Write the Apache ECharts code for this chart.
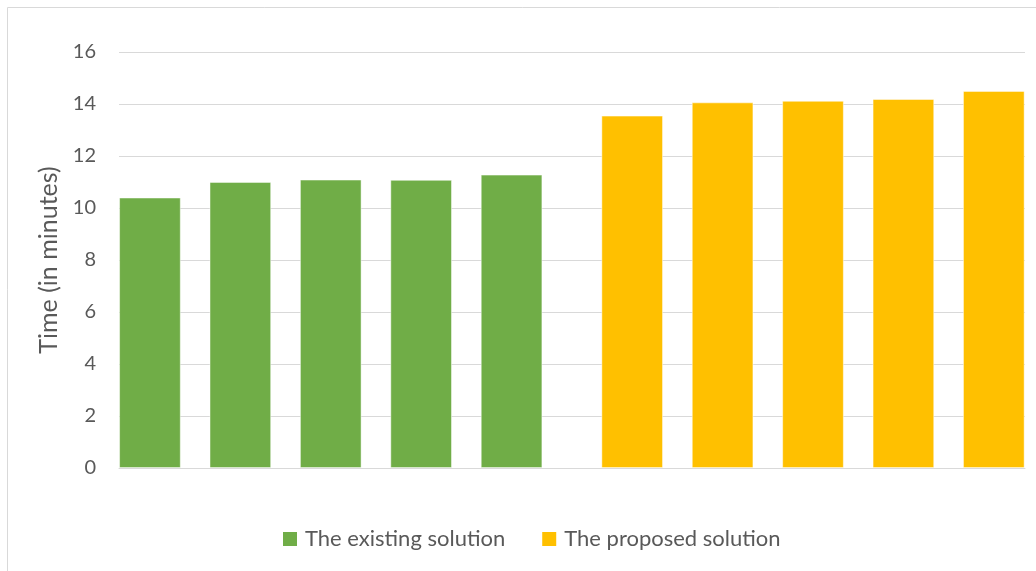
<!DOCTYPE html>
<html><head><meta charset="utf-8">
<script src="https://cdn.jsdelivr.net/npm/echarts@6/dist/echarts.min.js"></script>
<style>html,body{margin:0;padding:0;background:#fff}#c{width:1036px;height:571px}</style>
</head><body><div id="c"></div>
<script>
const groups = ["The existing solution", "The proposed solution"];
const existingValues = [10.4, 11.0, 11.09, 11.08, 11.28];
const proposedValues = [13.55, 14.06, 14.12, 14.19, 14.5];
const groupColors = ["#70ad47", "#ffc000"];
const yTicks = [0, 2, 4, 6, 8, 10, 12, 14, 16];

const FONT = 'Lato';
const chart = echarts.init(document.getElementById('c'), null, {renderer: 'canvas'});

const barSeries = existingValues.map((v, i) => ({
  type: 'bar', name: 'run' + (i + 1), xAxisIndex: 0, yAxisIndex: 0,
  barWidth: 61.5, barGap: '47%', clip: false,
  data: [
    {value: v, itemStyle: {color: groupColors[0]}},
    {value: proposedValues[i], itemStyle: {color: groupColors[1]}}
  ],
  itemStyle: {borderColor: 'rgba(255,255,255,0.6)', borderWidth: 0.8},
  emphasis: {disabled: true}, silent: true, animation: false
}));

const legendSeries = groups.map((g, i) => ({
  type: 'bar', name: g, xAxisIndex: 1, yAxisIndex: 1, data: [],
  itemStyle: {color: groupColors[i]}, animation: false
}));

chart.setOption({
  animation: false,
  graphic: [{type: 'rect', shape: {x: 7.5, y: 7.5, width: 1040, height: 580},
    style: {fill: 'none', stroke: '#d9d9d9', lineWidth: 1}, silent: true}],
  grid: [
    {left: 330.75, right: 1036 - 813, top: 52, bottom: 103},
    {left: 119, right: 11, top: 52, bottom: 103}
  ],
  xAxis: [
    {type: 'category', gridIndex: 0, data: groups, show: false, boundaryGap: false},
    {type: 'category', gridIndex: 1, data: [''], axisLine: {show: true, lineStyle: {color: '#d9d9d9', width: 1}},
     axisTick: {show: false}, axisLabel: {show: false}}
  ],
  yAxis: [
    {type: 'value', gridIndex: 0, min: yTicks[0], max: yTicks[yTicks.length - 1], interval: 2, show: false, splitLine: {show: false}},
    {type: 'value', gridIndex: 1, min: yTicks[0], max: yTicks[yTicks.length - 1], interval: 2,
     name: 'Time (in minutes)', nameLocation: 'middle', nameGap: 54,
     nameTextStyle: {fontFamily: FONT, fontSize: 25, color: '#595959'},
     axisLine: {show: false}, axisTick: {show: false},
     axisLabel: {fontFamily: FONT, fontSize: 20, color: '#595959', margin: 23},
     splitLine: {lineStyle: {color: '#d9d9d9', width: 1}}}
  ],
  legend: {
    data: groups, top: 523, left: 278, itemGap: 37,
    icon: 'rect', itemWidth: 14, itemHeight: 14,
    textStyle: {fontFamily: FONT, fontSize: 22, color: '#595959', padding: [0, 0, 0, 3]}
  },
  series: barSeries.concat(legendSeries)
});
</script></body></html>
